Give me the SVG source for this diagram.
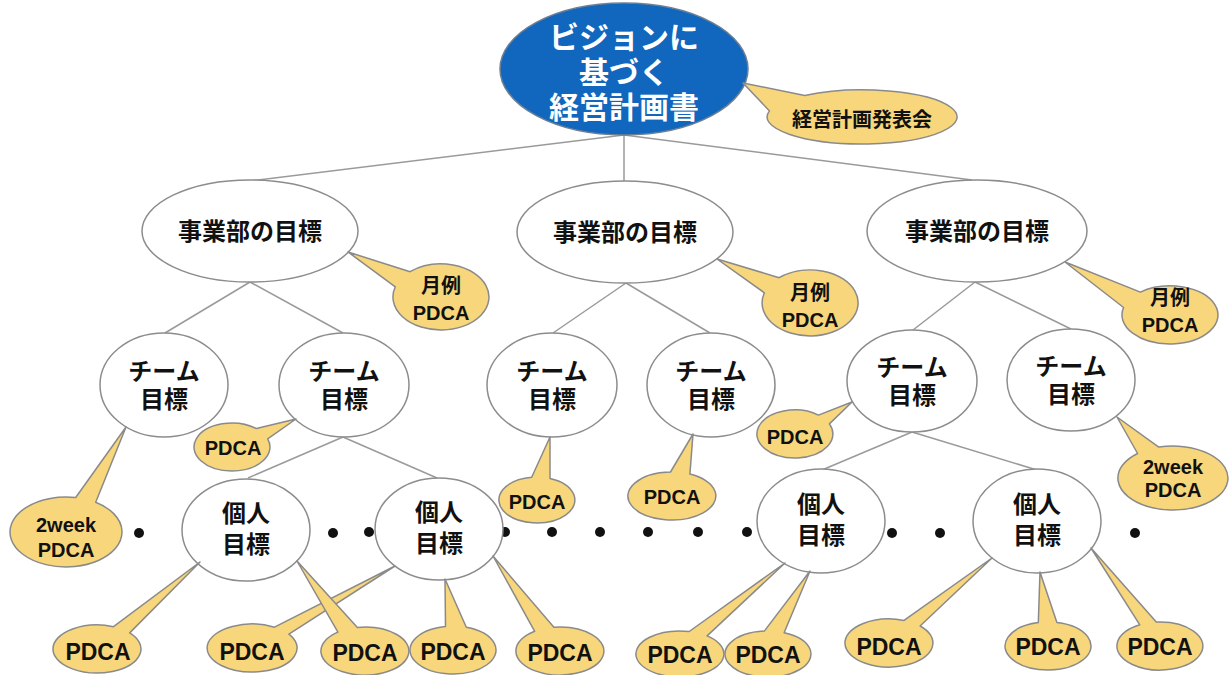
<svg xmlns="http://www.w3.org/2000/svg" width="1229" height="675" viewBox="0 0 1229 675">
<style>
  .bg { fill: #ffffff; }
  .conn line { stroke: #9a9a9a; stroke-width: 1.5; }
  .node ellipse { fill: #ffffff; stroke: #8c8c8c; stroke-width: 1.5; }
  .root ellipse { fill: #1167bd; stroke: #6d7f93; stroke-width: 1.5; }
  .callout path { fill: #f8d67b; stroke: #8a8a8a; stroke-width: 1.5; stroke-linejoin: round; }
  text { font-family: "Liberation Sans", "Noto Sans CJK JP", sans-serif; font-weight: bold; fill: #111111; text-anchor: middle; }
  .root text { fill: #ffffff; font-size: 30px; }
  .biz text { font-size: 24px; }
  .team text, .person text { font-size: 24px; }
  .c20 text { font-size: 20px; }
  .c23 text { font-size: 23px; }
  .dots circle { fill: #111111; }
</style>
<rect class="bg" x="0" y="0" width="1229" height="675"/>

<g id="connectors" class="conn">
  <line x1="624" y1="135" x2="250" y2="181"/>
  <line x1="624" y1="135" x2="624" y2="182"/>
  <line x1="624" y1="135" x2="972" y2="180"/>
  <line x1="250" y1="282" x2="165" y2="333"/>
  <line x1="250" y1="282" x2="343" y2="333"/>
  <line x1="626" y1="283" x2="553" y2="333"/>
  <line x1="626" y1="283" x2="710" y2="333"/>
  <line x1="975" y1="282" x2="913" y2="330"/>
  <line x1="975" y1="282" x2="1071" y2="329"/>
  <line x1="343" y1="437" x2="248" y2="478"/>
  <line x1="343" y1="437" x2="437" y2="478"/>
  <line x1="912" y1="432" x2="822" y2="470"/>
  <line x1="912" y1="432" x2="1037" y2="470"/>
</g>

<g id="dots" class="dots">
  <circle cx="139" cy="533" r="5"/>
  <circle cx="333" cy="533" r="5"/>
  <circle cx="369" cy="532" r="5"/>
  <circle cx="505" cy="532" r="5"/>
  <circle cx="552" cy="532" r="5"/>
  <circle cx="600" cy="532" r="5"/>
  <circle cx="648" cy="532" r="5"/>
  <circle cx="698" cy="532" r="5"/>
  <circle cx="747" cy="532" r="5"/>
  <circle cx="892" cy="533" r="5"/>
  <circle cx="940" cy="533" r="5"/>
  <circle cx="1135" cy="533" r="5"/>
</g>

<g id="root" class="root">
  <ellipse cx="624" cy="69" rx="124" ry="66"/>
  <text x="624" y="48">ビジョンに</text>
  <text x="624" y="83">基づく</text>
  <text x="624" y="118">経営計画書</text>
</g>

<g id="biz-left" class="node biz">
  <ellipse cx="250" cy="231" rx="108" ry="51"/>
  <text x="250" y="240">事業部の目標</text>
</g>
<g id="biz-mid" class="node biz">
  <ellipse cx="625" cy="232" rx="108" ry="51"/>
  <text x="625" y="241">事業部の目標</text>
</g>
<g id="biz-right" class="node biz">
  <ellipse cx="977" cy="231" rx="110" ry="51"/>
  <text x="977" y="240">事業部の目標</text>
</g>

<g id="team-1" class="node team">
  <ellipse cx="164" cy="385" rx="64" ry="52"/>
  <text x="164" y="380">チーム</text>
  <text x="164" y="408">目標</text>
</g>
<g id="team-2" class="node team">
  <ellipse cx="344" cy="385" rx="65" ry="52"/>
  <text x="344" y="380">チーム</text>
  <text x="344" y="408">目標</text>
</g>
<g id="team-3" class="node team">
  <ellipse cx="552" cy="385" rx="65" ry="52"/>
  <text x="552" y="380">チーム</text>
  <text x="552" y="408">目標</text>
</g>
<g id="team-4" class="node team">
  <ellipse cx="711" cy="385" rx="64" ry="52"/>
  <text x="711" y="380">チーム</text>
  <text x="711" y="408">目標</text>
</g>
<g id="team-5" class="node team">
  <ellipse cx="912" cy="381" rx="65" ry="51"/>
  <text x="912" y="376">チーム</text>
  <text x="912" y="404">目標</text>
</g>
<g id="team-6" class="node team">
  <ellipse cx="1071" cy="380" rx="64" ry="51"/>
  <text x="1071" y="375">チーム</text>
  <text x="1071" y="403">目標</text>
</g>

<g id="person-1" class="node person">
  <ellipse cx="246" cy="530" rx="64" ry="51"/>
  <text x="246" y="522">個人</text>
  <text x="246" y="553">目標</text>
</g>
<g id="person-2" class="node person">
  <ellipse cx="439" cy="529" rx="64" ry="51"/>
  <text x="439" y="521">個人</text>
  <text x="439" y="552">目標</text>
</g>
<g id="person-3" class="node person">
  <ellipse cx="821" cy="521" rx="64" ry="52"/>
  <text x="821" y="513">個人</text>
  <text x="821" y="544">目標</text>
</g>
<g id="person-4" class="node person">
  <ellipse cx="1037" cy="521" rx="64" ry="52"/>
  <text x="1037" y="513">個人</text>
  <text x="1037" y="544">目標</text>
</g>

<g id="callout-root" class="callout c20">
  <path d="M769.5,110.9 L743,83 L804.8,95.4 A95,27 0 1 1 769.5,110.9 Z"/>
  <text x="862" y="127">経営計画発表会</text>
</g>
<g id="callout-biz-left" class="callout c20">
  <path d="M395.3,286.8 L348,252 L410.1,271.7 A48,33 0 1 1 395.3,286.8 Z"/>
  <text x="441" y="293">月例</text>
  <text x="441" y="320">PDCA</text>
</g>
<g id="callout-biz-mid" class="callout c20">
  <path d="M764.4,292.8 L717,259 L779.1,277.7 A48,33 0 1 1 764.4,292.8 Z"/>
  <text x="810" y="300">月例</text>
  <text x="810" y="327">PDCA</text>
</g>
<g id="callout-biz-right" class="callout c20">
  <path d="M1123.6,307.5 L1065,262 L1140.4,292.1 A48,29 0 1 1 1123.6,307.5 Z"/>
  <text x="1170" y="305">月例</text>
  <text x="1170" y="332">PDCA</text>
</g>

<g id="callout-team-1" class="callout c20">
  <path d="M75.7,497.5 L126,427 L95.7,502.3 A56,35 0 1 1 75.7,497.5 Z"/>
  <text x="66" y="532">2week</text>
  <text x="66" y="557">PDCA</text>
</g>
<g id="callout-team-2" class="callout c20">
  <path d="M256.4,428.6 L296,419 L267.7,438.8 A38,24 0 1 1 256.4,428.6 Z"/>
  <text x="233" y="455">PDCA</text>
</g>
<g id="callout-team-3" class="callout c20">
  <path d="M531.7,477.2 L550,437 L550,478.4 A38,23 0 1 1 531.7,477.2 Z"/>
  <text x="537" y="509">PDCA</text>
</g>
<g id="callout-team-4" class="callout c20">
  <path d="M670.5,472 L693,434 L689.9,474.1 A44,24 0 1 1 670.5,472 Z"/>
  <text x="672" y="504">PDCA</text>
</g>
<g id="callout-team-5" class="callout c20">
  <path d="M818.4,415.1 L852,402 L829.4,423.9 A38,24 0 1 1 818.4,415.1 Z"/>
  <text x="795" y="444">PDCA</text>
</g>
<g id="callout-team-6" class="callout c20">
  <path d="M1137.6,453.5 L1117,417 L1158.8,447.1 A55,32 0 1 1 1137.6,453.5 Z"/>
  <text x="1173" y="474">2week</text>
  <text x="1173" y="497">PDCA</text>
</g>

<g id="callout-p1" class="callout c23">
  <path d="M113.5,626.7 L200,562 L129.7,632.9 A44,24 0 1 1 113.5,626.7 Z"/>
  <text x="98" y="660">PDCA</text>
</g>
<g id="callout-p2" class="callout c23">
  <path d="M274.5,627.2 L395,566 L288.9,634.2 A45,24 0 1 1 274.5,627.2 Z"/>
  <text x="252" y="660">PDCA</text>
</g>
<g id="callout-p3" class="callout c23">
  <path d="M337.9,632.1 L297,561 L357.4,627.4 A44,24 0 1 1 337.9,632.1 Z"/>
  <text x="365" y="661">PDCA</text>
</g>
<g id="callout-p4" class="callout c23">
  <path d="M445.5,626.4 L445,579 L466.3,627.2 A43,24 0 1 1 445.5,626.4 Z"/>
  <text x="453" y="660">PDCA</text>
</g>
<g id="callout-p5" class="callout c23">
  <path d="M534.7,631.3 L493,556 L553.9,627.2 A44,24 0 1 1 534.7,631.3 Z"/>
  <text x="560" y="661">PDCA</text>
</g>
<g id="callout-p6" class="callout c23">
  <path d="M689.2,631.5 L785,563 L707.1,635.9 A44,23 0 1 1 689.2,631.5 Z"/>
  <text x="680" y="663">PDCA</text>
</g>
<g id="callout-p7" class="callout c23">
  <path d="M764.3,631.1 L810,571 L784.1,632.7 A43,23 0 1 1 764.3,631.1 Z"/>
  <text x="768" y="663">PDCA</text>
</g>
<g id="callout-p8" class="callout c23">
  <path d="M904,620.4 L992,558 L920.1,626 A44,24 0 1 1 904,620.4 Z"/>
  <text x="889" y="655">PDCA</text>
</g>
<g id="callout-p9" class="callout c23">
  <path d="M1038.3,622.6 L1040,572 L1056.9,622.5 A43,24 0 1 1 1038.3,622.6 Z"/>
  <text x="1048" y="655">PDCA</text>
</g>
<g id="callout-p10" class="callout c23">
  <path d="M1139.8,624.8 L1091,548 L1156.3,622.1 A43,24 0 1 1 1139.8,624.8 Z"/>
  <text x="1160" y="655">PDCA</text>
</g>
</svg>
